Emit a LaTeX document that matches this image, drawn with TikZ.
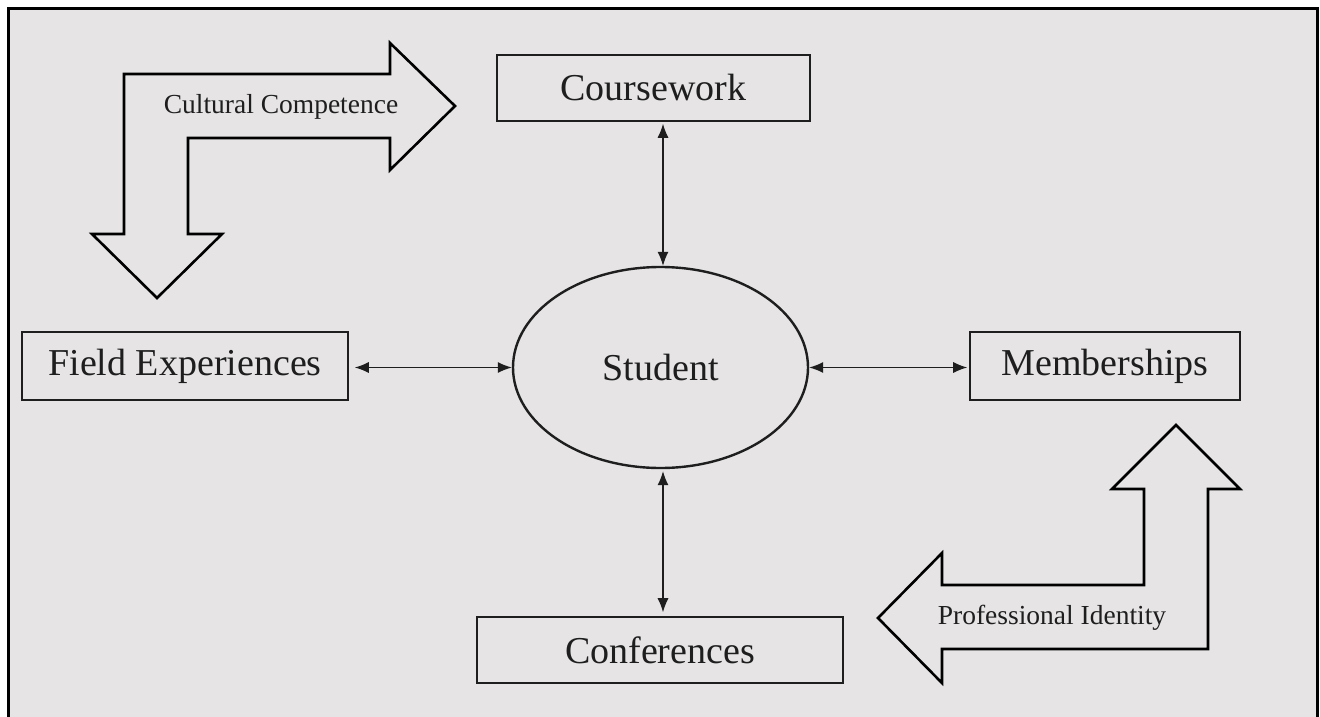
\documentclass[tikz,border=0pt]{standalone}
\usepackage{fontspec}
\setmainfont{Liberation Serif}
\usetikzlibrary{arrows.meta,shapes.geometric}
\definecolor{bg}{HTML}{E6E4E5}
\definecolor{ink}{HTML}{1E1E1E}
\tikzset{
  box/.style={draw=ink, line width=1.6pt, fill=bg, inner sep=0pt, text=ink,
    font=\fontsize{38}{44}\selectfont},
  link/.style={draw=ink, line width=1.1pt, {Latex[length=14pt,width=11pt]}-{Latex[length=14pt,width=11pt]}},
  bigarrow/.style={draw=black, line width=2.6pt, fill=bg, line join=miter},
  arrowlabel/.style={text=ink, font=\fontsize{27.5}{32}\selectfont, inner sep=0pt}
}
\begin{document}
\begin{tikzpicture}[x=1pt,y=-1pt]
\useasboundingbox (0,0) rectangle (1320,717);
\fill[white] (0,0) rectangle (1320,717);
\fill[bg] (8,9) rectangle (1317,717);
\draw[black, line width=3pt] (8,717) -- (8,9) -- (1317,9) -- (1317,717);

% Cultural Competence bent arrow
\draw[bigarrow] (124,74) -- (390,74) -- (390,43) -- (455,106) -- (390,170) -- (390,138)
  -- (188,138) -- (188,234) -- (222,234) -- (157,298) -- (92,234) -- (124,234) -- cycle;
\node[arrowlabel] (cc) at (281,107) {Cultural Competence};

% Professional Identity bent arrow
\draw[bigarrow] (1176,425) -- (1240,489) -- (1208,489) -- (1208,649) -- (942,649) -- (942,683)
  -- (878,618) -- (942,553) -- (942,585) -- (1144,585) -- (1144,489) -- (1112,489) -- cycle;
\node[arrowlabel] (pi) at (1052,618) {Professional Identity};

% Nodes
\node[box, minimum width=313pt, minimum height=66pt] (cw) at (653.5,88) {Coursework};
\node[box, minimum width=326pt, minimum height=68pt] (fe) at (185,366) {Field Experiences};
\node[box, minimum width=270pt, minimum height=68pt] (mb) at (1105,366) {Memberships};
\node[box, minimum width=366pt, minimum height=66pt] (cf) at (660,650) {Conferences};
\node[box, ellipse, line width=2.4pt, minimum width=295pt, minimum height=201pt] (st) at (660.5,367.5) {Student};

% Connectors
\draw[link, shorten <=2pt] ([xshift=2.5pt]st.north |- cw.south) -- ([xshift=2.5pt]st.north);
\draw[link, shorten <=6pt] (fe.east |- st.west) -- (st.west);
\draw[link, shorten >=2pt] (st.east) -- (mb.west |- st.east);
\draw[link, shorten >=4pt, shorten <=2pt] ([xshift=2.5pt]st.south) -- ([xshift=2.5pt]st.south |- cf.north);
\end{tikzpicture}
\end{document}
